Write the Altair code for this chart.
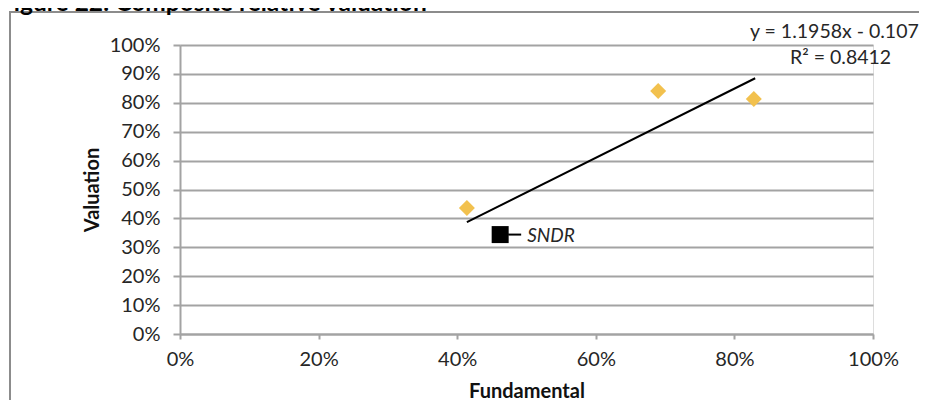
import altair as alt
import pandas as pd

# --- data ---
peer_fundamental = [0.414, 0.690, 0.828]
peer_valuation = [0.436, 0.841, 0.813]
sndr_fundamental = [0.462]
sndr_valuation = [0.344]
sndr_label = ["SNDR"]
trend_fundamental = [0.414, 0.830]
trend_valuation = [0.387, 0.885]
x_ticks = [0, 0.2, 0.4, 0.6, 0.8, 1.0]
y_ticks = [0, 0.1, 0.2, 0.3, 0.4, 0.5, 0.6, 0.7, 0.8, 0.9, 1.0]
title_text = ["Figure 22: Composite relative valuation"]
eq_text = ["y = 1.1958x - 0.1078"]
r2_text = ["R\u00b2 = 0.8412"]

FONT = "Lato"
GRID = "#a3a3a3"

peers = pd.DataFrame({"Fundamental": peer_fundamental, "Valuation": peer_valuation})
sndr = pd.DataFrame({"Fundamental": sndr_fundamental, "Valuation": sndr_valuation, "label": sndr_label})
trend = pd.DataFrame({"Fundamental": trend_fundamental, "Valuation": trend_valuation})

xscale = alt.Scale(domain=[0, 1], nice=False, zero=True)
yscale = alt.Scale(domain=[0, 1], nice=False, zero=True)

xaxis = alt.Axis(
    values=x_ticks, format=".0%", grid=False, title="Fundamental",
    titleFont=FONT, titleFontSize=20, titleFontWeight="bold", titleColor="#111",
    titleY=47, titleBaseline="top",
    labelFont=FONT, labelFontSize=20, labelColor="#262626", labelPadding=10,
    tickSize=5, tickColor=GRID, tickWidth=2, domainColor=GRID, domainWidth=2,
    labelFlush=False,
)
yaxis = alt.Axis(
    values=y_ticks, format=".0%", grid=True, gridColor=GRID, gridWidth=2,
    title="Valuation", titleFont=FONT, titleFontSize=20, titleFontWeight="bold",
    titleColor="#111", titleX=-78, titleY=144.5, titleAngle=-90, titleBaseline="bottom",
    titleAlign="center",
    labelFont=FONT, labelFontSize=20, labelColor="#262626", labelPadding=13,
    tickSize=7, tickColor=GRID, tickWidth=2, domainColor=GRID, domainWidth=2,
    labelFlush=False,
)

base_x = alt.X("Fundamental:Q", scale=xscale, axis=xaxis)
base_y = alt.Y("Valuation:Q", scale=yscale, axis=yaxis)

border = alt.Chart(pd.DataFrame({"t": title_text})).mark_rect(
    fill=None, stroke="#8c8c8c", strokeWidth=2
).encode(
    x=alt.value(-170), x2=alt.value(800), y=alt.value(-33), y2=alt.value(400)
)

title = alt.Chart(pd.DataFrame({"t": title_text})).mark_text(
    font=FONT, fontSize=24.5, fontWeight="bold", align="left", baseline="alphabetic",
    color="#000"
).encode(x=alt.value(-180), y=alt.value(-34), text="t:N")

points = alt.Chart(peers).mark_point(
    shape="diamond", filled=True, size=256, color="#f2c14e", opacity=1
).encode(x=base_x, y=base_y)

line = alt.Chart(trend).mark_line(color="#000", strokeWidth=2).encode(x=base_x, y=base_y)

leader = alt.Chart(sndr).mark_rule(color="#000", strokeWidth=2, xOffset=8, x2Offset=21).encode(
    x=base_x, x2="Fundamental:Q", y=base_y
)

square = alt.Chart(sndr).mark_square(size=289, color="#000", opacity=1).encode(x=base_x, y=base_y)

sndr_txt = alt.Chart(sndr).mark_text(
    font=FONT, fontSize=19, fontStyle="italic", align="left", baseline="middle",
    dx=27, dy=1, color="#262626"
).encode(x=base_x, y=base_y, text="label:N")

eq = alt.Chart(pd.DataFrame({"t": eq_text})).mark_text(
    font=FONT, fontSize=19.5, align="left", baseline="middle", color="#262626"
).encode(x=alt.value(570), y=alt.value(-13), text="t:N")

r2 = alt.Chart(pd.DataFrame({"t": r2_text})).mark_text(
    font=FONT, fontSize=19.5, align="left", baseline="middle", color="#262626"
).encode(x=alt.value(610), y=alt.value(13), text="t:N")

chart = alt.layer(border, title, line, points, leader, square, sndr_txt, eq, r2).properties(
    width=693, height=289,
    padding={"left": 172, "top": 37, "right": 46, "bottom": 66},
    autosize=alt.AutoSizeParams(type="none"),
).configure_view(stroke=None).configure(background="white")

chart.save("out.html", embed_options={"renderer": "svg", "actions": False})
